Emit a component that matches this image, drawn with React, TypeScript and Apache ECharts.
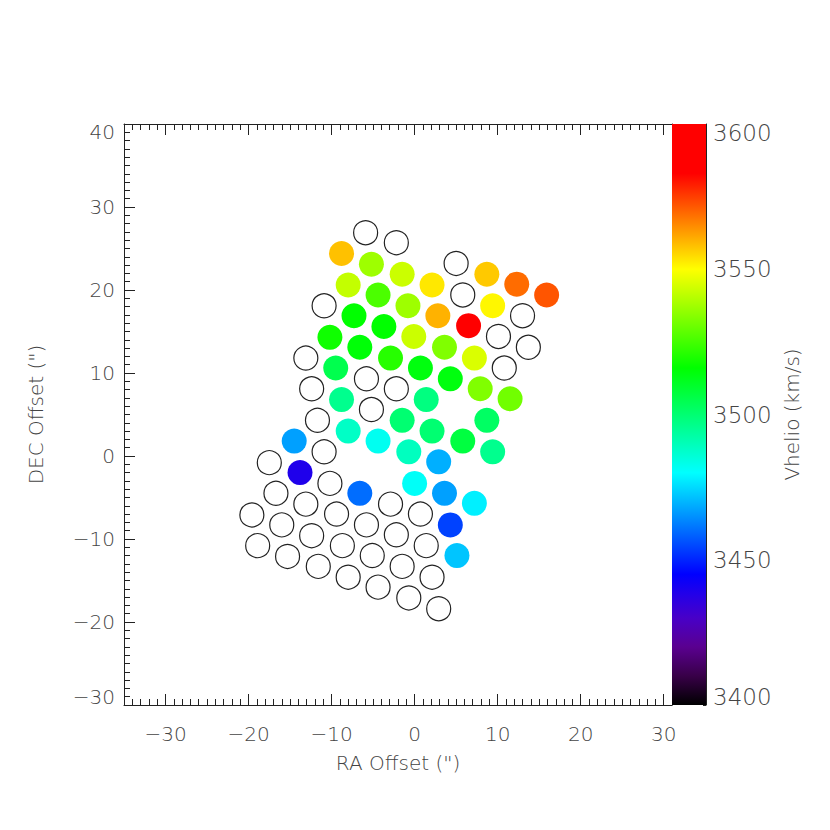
import React, { useEffect, useRef } from "react";
import * as echarts from "echarts";

// Fiber positions (arcsec offsets) and heliocentric velocities (null = no measurement)
const fiberX = [
  -5.9, -2.2, -8.8, -5.2, -1.5, 2.1, 5.0, 8.7, 12.3, 15.9,
  -8.0, -4.4, -0.8, 2.8, 5.8, 9.4, 13.0, -10.9, -7.3, -3.7,
  -0.1, 6.5, 10.1, 13.7, -10.2, -6.6, 3.6, 7.2, 10.8, -13.1,
  -9.5, -2.9, 0.7, 4.3, 7.9, 11.5, -12.4, -5.8, -2.2, -8.8,
  1.4, -5.2, -11.7, -1.5, -8.0, -4.4, 2.1, 5.8, 8.7, 9.4,
  -14.5, -10.9, -0.7, 2.9, -17.5, -13.8, -10.2, 0.0, 3.6, 7.2,
  -6.6, -16.7, -13.1, -2.9, 0.7, 4.3, -19.6, -16.0, -9.4, -12.4,
  -5.8, -2.2, 1.4, 5.1, -18.9, -15.3, -8.7, -5.1, -11.6, -1.5,
  2.1, -8.0, -4.4, -0.7, 2.9,
];
const fiberY = [
  26.9, 25.7, 24.4, 23.1, 21.9, 20.6, 23.2, 21.9, 20.7, 19.4,
  20.6, 19.4, 18.1, 16.9, 19.4, 18.1, 16.9, 18.1, 16.9, 15.6,
  14.4, 15.7, 14.4, 13.1, 14.3, 13.1, 13.1, 11.8, 10.6, 11.8,
  10.6, 11.8, 10.6, 9.3, 8.1, 6.9, 8.1, 9.3, 8.1, 6.8,
  6.8, 5.6, 4.3, 4.3, 3.0, 1.8, 3.0, 1.8, 4.3, 0.5,
  1.8, 0.5, 0.5, -0.7, -0.8, -2.0, -3.3, -3.3, -4.5, -5.7,
  -4.5, -4.5, -5.8, -5.8, -7.0, -8.3, -7.1, -8.3, -7.0, -9.6,
  -8.3, -9.5, -10.8, -12.0, -10.8, -12.1, -10.8, -12.0, -13.3, -13.3,
  -14.6, -14.6, -15.8, -17.1, -18.4,
];
const vhelio: (number | null)[] = [
  null, null, 3558, 3537, 3543, 3553, null, 3557, 3569, 3572,
  3542, 3526, 3537, 3560, null, 3551, null, null, 3516, 3516,
  3543, 3590, null, null, 3518, 3515, 3533, 3545, null, null,
  3505, 3521, 3514, 3514, 3533, 3531, null, null, null, 3496,
  3498, null, null, 3500, 3488, 3482, 3500, 3507, 3502, 3496,
  3467, null, 3489, 3469, null, 3439, null, 3481, 3467, 3478,
  3460, null, null, null, null, 3454, null, null, null, null,
  null, null, null, 3472, null, null, null, null, null, null,
  null, null, null, null, null,
];

const xMajorTicks = [-30, -20, -10, 0, 10, 20, 30];
const xMinorTicks = [
  -35, -34, -33, -32, -31, -30, -29, -28, -27, -26, -25, -24, -23, -22, -21, -20,
  -19, -18, -17, -16, -15, -14, -13, -12, -11, -10, -9, -8, -7, -6, -5, -4, -3, -2, -1,
  0, 1, 2, 3, 4, 5, 6, 7, 8, 9, 10, 11, 12, 13, 14, 15, 16, 17, 18, 19, 20,
  21, 22, 23, 24, 25, 26, 27, 28, 29, 30, 31,
];
const X_MIN = -35;
const X_MAX = 31;
const Y_MIN = -30;
const Y_MAX = 40;
const V_MIN = 3400;
const V_MAX = 3600;

// colour table (value, colour)
const cmapValues = [3400, 3410, 3420, 3430, 3438, 3445, 3480, 3516, 3550, 3583, 3600];
const cmapColors = [
  "#000000", "#380048", "#5a0090", "#4800c8", "#2400e8", "#0000ff",
  "#00ffff", "#00ff00", "#ffff00", "#ff0000", "#ff0000",
];

function hexToRgb(h: string) {
  return [parseInt(h.slice(1, 3), 16), parseInt(h.slice(3, 5), 16), parseInt(h.slice(5, 7), 16)];
}
function cmap(v: number) {
  if (v <= cmapValues[0]) return cmapColors[0];
  for (let i = 1; i < cmapValues.length; i++) {
    if (v <= cmapValues[i]) {
      const t = (v - cmapValues[i - 1]) / (cmapValues[i] - cmapValues[i - 1]);
      const a = hexToRgb(cmapColors[i - 1]);
      const b = hexToRgb(cmapColors[i]);
      const c = a.map((x, k) => Math.round(x + (b[k] - x) * t));
      return `rgb(${c[0]},${c[1]},${c[2]})`;
    }
  }
  return cmapColors[cmapColors.length - 1];
}

const FONT = "DejaVu Sans";
const TXT = "#444444";
const LINE = "#222222";

const minus = (v: number) => String(v).replace("-", "\u2212");

export default function App() {
  const ref = useRef<HTMLDivElement>(null);
  useEffect(() => {
    if (!ref.current) return;
    const chart = echarts.init(ref.current, undefined, { renderer: "svg" });

    const filled: number[][] = [];
    const empty: number[][] = [];
    fiberX.forEach((x, i) => {
      const v = vhelio[i];
      if (v === null || v === undefined) empty.push([x, fiberY[i]]);
      else filled.push([x, fiberY[i], v]);
    });

    const gradStops = cmapValues
      .map((v, i) => ({ offset: (V_MAX - v) / (V_MAX - V_MIN), color: cmapColors[i] }))
      .sort((a, b) => a.offset - b.offset);

    const labelBase = { fontFamily: FONT, fontSize: 20, color: TXT, fontWeight: 200 as any };
    const line = { show: true, onZero: false, lineStyle: { color: LINE, width: 1 } };
    const noLine = { show: false, onZero: false };

    const option: any = {
      animation: false,
      backgroundColor: "#ffffff",
      grid: [
        { left: 124, top: 124, width: 548, height: 581 },
        { left: 672, top: 124, width: 34, height: 581 },
      ],
      xAxis: [
        {
          gridIndex: 0, type: "value", position: "bottom", min: X_MIN, max: X_MAX,
          axisLine: line,
          axisTick: { show: true, inside: true, length: 11, customValues: xMajorTicks, lineStyle: { color: LINE } },
          axisLabel: { ...labelBase, margin: 19, customValues: xMajorTicks, formatter: (v: number) => minus(v) },
          splitLine: { show: false },
          name: 'RA Offset (")', nameLocation: "middle", nameGap: 48,
          nameTextStyle: { ...labelBase },
        },
        {
          gridIndex: 0, type: "value", position: "bottom", min: X_MIN, max: X_MAX,
          axisLine: noLine,
          axisTick: { show: true, inside: true, length: 6, customValues: xMinorTicks, lineStyle: { color: LINE } },
          axisLabel: { show: false }, splitLine: { show: false },
        },
        {
          gridIndex: 0, type: "value", position: "top", min: X_MIN, max: X_MAX,
          axisLine: line,
          axisTick: { show: true, inside: true, length: 11, customValues: xMajorTicks, lineStyle: { color: LINE } },
          axisLabel: { show: false }, splitLine: { show: false },
        },
        {
          gridIndex: 0, type: "value", position: "top", min: X_MIN, max: X_MAX,
          axisLine: noLine,
          axisTick: { show: true, inside: true, length: 6, customValues: xMinorTicks, lineStyle: { color: LINE } },
          axisLabel: { show: false }, splitLine: { show: false },
        },
        {
          gridIndex: 1, type: "value", min: 0, max: 1, show: false,
        },
      ],
      yAxis: [
        {
          gridIndex: 0, type: "value", position: "left", min: Y_MIN, max: Y_MAX, interval: 10,
          axisLine: line,
          axisTick: { show: true, inside: true, length: 11, lineStyle: { color: LINE } },
          minorTick: { show: true, splitNumber: 10, length: 6, lineStyle: { color: LINE } },
          axisLabel: {
            ...labelBase, margin: 9,
            formatter: (v: number) => {
              const s = minus(v);
              if (v === Y_MAX) return "{top|" + s + "}";
              if (v === Y_MIN) return "{bot|" + s + "}";
              return s;
            },
            rich: {
              top: { ...labelBase, padding: [16, 0, 0, 0] },
              bot: { ...labelBase, padding: [0, 0, 16, 0] },
            },
          },
          splitLine: { show: false }, minorSplitLine: { show: false },
          name: 'DEC Offset (")', nameLocation: "middle", nameGap: 78, nameRotate: 90,
          nameTextStyle: { ...labelBase },
        },
        {
          gridIndex: 1, type: "value", position: "right", min: V_MIN, max: V_MAX, interval: 50,
          axisLine: line,
          axisTick: { show: true, inside: true, length: 3, lineStyle: { color: LINE } },
          minorTick: { show: true, splitNumber: 5, length: 3, lineStyle: { color: LINE } },
          axisLabel: {
            ...labelBase, fontSize: 23, margin: 7,
            formatter: (v: number) => {
              const s = String(v);
              if (v === V_MAX) return "{top|" + s + "}";
              if (v === V_MIN) return "{bot|" + s + "}";
              return s;
            },
            rich: {
              top: { ...labelBase, fontSize: 23, padding: [18, 0, 0, 0] },
              bot: { ...labelBase, fontSize: 23, padding: [0, 0, 16, 0] },
            },
          },
          splitLine: { show: false },
          name: "Vhelio (km/s)", nameLocation: "middle", nameGap: 76, nameRotate: 90,
          nameTextStyle: { ...labelBase },
        },
        {
          gridIndex: 1, type: "value", position: "left", min: V_MIN, max: V_MAX,
          axisLine: line,
          axisTick: { show: false }, axisLabel: { show: false }, splitLine: { show: false },
        },
      ],
      series: [
        {
          type: "custom", xAxisIndex: 4, yAxisIndex: 1, silent: true, z: 1,
          data: [[0, V_MIN, 1, V_MAX]],
          encode: { x: [0, 2], y: [1, 3] },
          renderItem: (params: any, api: any) => {
            const p0 = api.coord([api.value(0), api.value(3)]);
            const p1 = api.coord([api.value(2), api.value(1)]);
            return {
              type: "rect",
              shape: { x: p0[0], y: p0[1], width: p1[0] - p0[0], height: p1[1] - p0[1] },
              style: { fill: new echarts.graphic.LinearGradient(0, 0, 0, 1, gradStops) },
            };
          },
        },
        {
          type: "scatter", xAxisIndex: 0, yAxisIndex: 0, data: empty, symbol: "circle",
          symbolSize: 24, silent: true,
          itemStyle: { color: "rgba(255,255,255,0)", borderColor: "#222", borderWidth: 1.2, opacity: 1 },
        },
        {
          type: "scatter", xAxisIndex: 0, yAxisIndex: 0, data: filled, symbol: "circle",
          symbolSize: 25, silent: true,
          itemStyle: { color: (p: any) => cmap(p.value[2]), opacity: 1 },
        },
      ],
    };
    chart.setOption(option);
    return () => chart.dispose();
  }, []);
  return (
    <div
      ref={ref}
      style={{ position: "absolute", left: 0, top: 0, width: 830, height: 830, background: "#fff" }}
    />
  );
}
